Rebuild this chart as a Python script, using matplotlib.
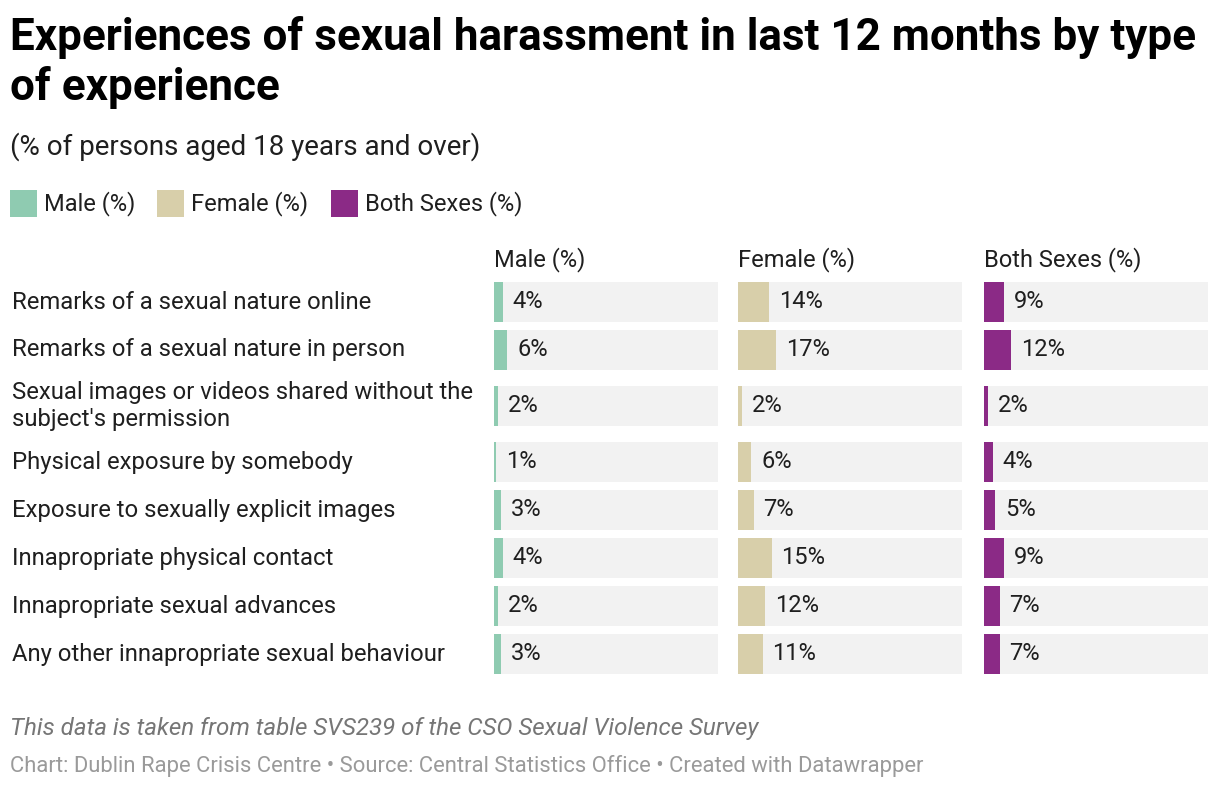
import matplotlib
matplotlib.use("Agg")
import matplotlib.pyplot as plt
from matplotlib.patches import Rectangle

# ---- data ----
categories = [
    "Remarks of a sexual nature online",
    "Remarks of a sexual nature in person",
    "Sexual images or videos shared without the\nsubject's permission",
    "Physical exposure by somebody",
    "Exposure to sexually explicit images",
    "Innapropriate physical contact",
    "Innapropriate sexual advances",
    "Any other innapropriate sexual behaviour",
]
series_names = ["Male (%)", "Female (%)", "Both Sexes (%)"]
male = [4, 6, 2, 1, 3, 4, 2, 3]
female = [14, 17, 2, 6, 7, 15, 12, 11]
both = [9, 12, 2, 4, 5, 9, 7, 7]
series_values = [male, female, both]
colors = ["#8fcbb1", "#d8cfaa", "#8b2a86"]

title = "Experiences of sexual harassment in last 12 months by type\nof experience"
subtitle = "(% of persons aged 18 years and over)"
note = "This data is taken from table SVS239 of the CSO Sexual Violence Survey"
credits = "Chart: Dublin Rape Crisis Centre \u2022 Source: Central Statistics Office \u2022 Created with Datawrapper"

# ---- layout ----
W, H = 1220, 790
plt.rcParams['font.family'] = ['Roboto', 'DejaVu Sans']
fig = plt.figure(figsize=(W / 100, H / 100), dpi=100)
fig.patch.set_facecolor("white")

def fx(px):
    return px / W

def fy(py):
    return 1 - py / H

TXT = "#1f1f1f"
FS = 17.2

# title
fig.text(fx(10), fy(50), title.split("\n")[0], fontsize=31.7, fontweight="bold",
         color="#000000", va="baseline", ha="left")
fig.text(fx(10), fy(100), title.split("\n")[1], fontsize=31.7, fontweight="bold",
         color="#000000", va="baseline", ha="left")
fig.text(fx(10), fy(155), subtitle, fontsize=20, color=TXT, va="baseline", ha="left")

# legend
leg_sq_x = [10, 157, 331]
for i, name in enumerate(series_names):
    fig.patches.append(Rectangle((fx(leg_sq_x[i]), fy(217)), 27 / W, 27 / H,
                                 transform=fig.transFigure, color=colors[i], lw=0))
    fig.text(fx(leg_sq_x[i] + 34), fy(210), name, fontsize=17, color=TXT,
             va="baseline", ha="left")

# rows
row_tops = []
row_heights = []
top = 278
for c in categories:
    h = 48 + (16 if "\n" in c else 0)
    row_tops.append(top)
    row_heights.append(h)
    top += h
row_centers = [t + h / 2 for t, h in zip(row_tops, row_heights)]
grid_top, grid_bottom = 278, top

for c, yc in zip(categories, row_centers):
    fig.text(fx(12), fy(yc), c, fontsize=FS, color=TXT, va="center", ha="left",
             linespacing=1.2)

panel_left = [494, 738, 984]
panel_w = 224
bar_h = 40

for i, (name, vals) in enumerate(zip(series_names, series_values)):
    ax = fig.add_axes([fx(panel_left[i]), fy(grid_bottom), panel_w / W,
                       (grid_bottom - grid_top) / H])
    ax.set_xlim(0, 100)
    ax.set_ylim(grid_bottom, grid_top)
    ax.axis("off")
    ax.barh(row_centers, [100] * len(vals), height=bar_h, color="#f2f2f2", lw=0)
    ax.barh(row_centers, vals, height=bar_h, color=colors[i], lw=0)
    for v, yc in zip(vals, row_centers):
        ax.annotate(f"{v}%", xy=(v, yc), xytext=(7, 0), textcoords="offset points",
                    va="center", ha="left", fontsize=17, color=TXT)
    fig.text(fx(panel_left[i]), fy(266), name, fontsize=17, color=TXT,
             va="baseline", ha="left")

# footer
fig.text(fx(10), fy(735), note, fontsize=17.4, style="italic", color="#767676",
         va="baseline", ha="left")
fig.text(fx(10), fy(772), credits, fontsize=15.8, color="#9a9a9a",
         va="baseline", ha="left")

fig.savefig("out.png", dpi=100, facecolor="white")
